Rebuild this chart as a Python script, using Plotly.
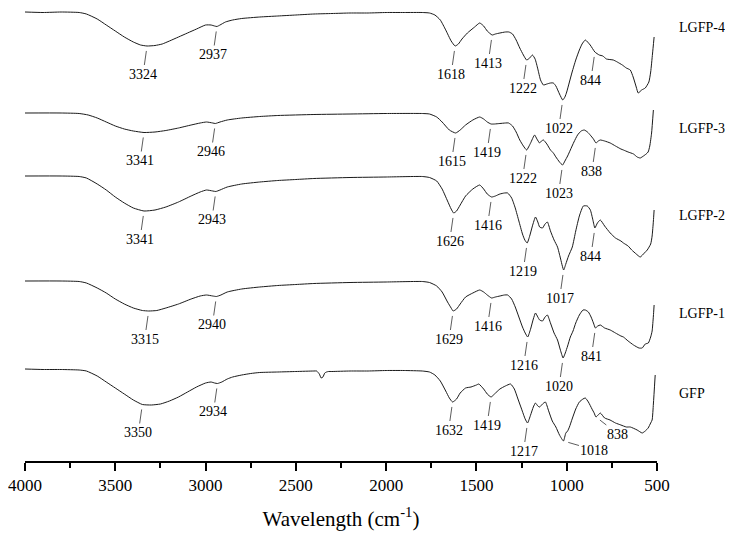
import numpy as np
import plotly.graph_objects as go

# ---------------------------------------------------------------------------
# FTIR spectra: wavenumber (cm-1) and depth below each
# spectrum's own flat baseline (arbitrary transmittance units, larger = deeper)
# ---------------------------------------------------------------------------
names = ["LGFP-4", "LGFP-3", "LGFP-2", "LGFP-1", "GFP"]
baselines = [449, 348, 285, 180, 92]          # vertical offset of each spectrum
name_label_y = [434, 333, 246, 148, 68]

lgfp4_wn = [4000, 3900, 3800, 3700, 3660, 3600, 3550, 3500, 3450, 3400, 3360, 3324, 3280, 3240, 3200,
            3150, 3100, 3050, 3000, 2970, 2950, 2937, 2920, 2890, 2850, 2800, 2700, 2600, 2500, 2400,
            2300, 2200, 2100, 2000, 1900, 1800, 1760, 1730, 1700, 1670, 1640, 1618, 1600, 1580, 1550,
            1510, 1482, 1460, 1440, 1413, 1395, 1370, 1340, 1320, 1300, 1280, 1260, 1240, 1222, 1205,
            1190, 1175, 1160, 1145, 1129, 1110, 1090, 1074, 1060, 1040, 1022, 1010, 1000, 985, 970,
            950, 930, 915, 897, 870, 844, 820, 800, 780, 742, 720, 692, 670, 648, 632, 615, 604,
            585, 565, 545, 535, 525, 516]
lgfp4_d = [0, 0.5, 0, 0.5, 2, 7, 13, 19, 25, 30, 33, 34, 33.5, 32, 29,
           25, 21, 17, 13, 13, 14, 14.5, 13, 10, 8, 6.5, 5, 4, 3, 2,
           1.5, 1, 1, 0.5, 0.5, 0.5, 1, 3, 8, 18, 29, 34, 32, 27, 21,
           15, 11, 14, 19, 23, 22, 21, 20, 20, 22, 28, 36, 43, 48, 46,
           43, 47, 57, 68, 73, 72, 71, 71, 74, 82, 88, 85, 80, 70, 60,
           48, 38, 32, 28, 33, 40, 43, 44, 47, 48, 50, 53, 56, 58, 65, 75, 81,
           78, 76, 70, 60, 42, 25]

lgfp3_wn = [4000, 3800, 3700, 3650, 3600, 3550, 3500, 3450, 3400, 3341, 3280, 3220, 3150, 3080, 3030,
            2995, 2960, 2946, 2920, 2880, 2800, 2700, 2600, 2400, 2200, 2000, 1800, 1760, 1720, 1690,
            1650, 1615, 1590, 1560, 1520, 1482, 1460, 1440, 1419, 1400, 1370, 1340, 1322, 1300, 1280,
            1260, 1240, 1222, 1200, 1178, 1165, 1150, 1140, 1129, 1110, 1090, 1074, 1060, 1040, 1023,
            1010, 995, 980, 960, 940, 920, 903, 885, 870, 852, 838, 825, 814, 790, 759, 730, 700,
            686, 660, 630, 610, 593, 575, 560, 549, 540, 530, 520]
lgfp3_d = [0, 0, 0.5, 2, 5, 9, 13, 16, 18, 19.5, 19, 17.5, 15, 12, 10,
           9, 10, 10.5, 9, 7, 5, 3.5, 2.5, 1.5, 1, 0.5, 0.5, 1, 4, 9,
           17, 20, 17, 12, 7, 4, 6, 9, 11, 11, 10.5, 10, 10, 13, 19,
           27, 33, 37, 30, 22, 26, 30, 28, 27, 31, 37, 40, 44, 49, 52,
           48, 43, 37, 29, 22, 18, 17, 19, 22, 26, 30, 28, 27, 28, 30, 33, 36,
           37, 39, 41, 44, 45, 43, 41, 39, 33, 20, -3]

lgfp2_wn = [4000, 3800, 3700, 3660, 3600, 3550, 3500, 3450, 3400, 3341, 3280, 3220, 3150, 3080, 3030,
            2995, 2960, 2943, 2920, 2880, 2800, 2700, 2600, 2500, 2400, 2200, 2000, 1800, 1760, 1720,
            1690, 1660, 1640, 1626, 1610, 1590, 1560, 1520, 1482, 1460, 1440, 1416, 1395, 1370, 1345,
            1327, 1305, 1285, 1265, 1245, 1232, 1219, 1205, 1190, 1173, 1160, 1150, 1134, 1120, 1107,
            1090, 1070, 1051, 1035, 1017, 1005, 990, 969, 950, 930, 908, 886, 869, 855, 844, 830,
            814, 790, 759, 730, 700, 686, 660, 640, 615, 593, 570, 554, 535, 527, 520, 516]
lgfp2_d = [0, 0, 0.5, 2, 8, 14, 21, 27, 32, 35, 34, 31, 26, 20, 16,
           14, 15, 15.5, 14, 11, 8, 6, 4.5, 3.5, 2.5, 1.5, 1, 0.5, 1.5, 5,
           13, 25, 33, 37, 35, 29, 20, 13, 9, 13, 18, 21, 20, 18, 17,
           17, 22, 32, 45, 58, 64, 67, 60, 50, 41, 46, 51, 52, 48, 46,
           55, 64, 71, 82, 94, 88, 80, 71, 55, 40, 30, 30, 34, 44, 52, 47,
           44, 50, 57, 62, 65, 67, 70, 74, 78, 81, 77, 74, 68, 60, 45, 34]

lgfp1_wn = [4000, 3800, 3700, 3660, 3600, 3550, 3500, 3450, 3400, 3350, 3315, 3270, 3220, 3150, 3080,
            3030, 2995, 2960, 2940, 2915, 2880, 2800, 2700, 2600, 2500, 2400, 2200, 2000, 1800, 1760,
            1720, 1690, 1660, 1640, 1629, 1610, 1590, 1560, 1520, 1482, 1460, 1440, 1416, 1395, 1370,
            1345, 1327, 1305, 1285, 1265, 1245, 1230, 1216, 1200, 1185, 1173, 1160, 1150, 1134, 1120,
            1107, 1090, 1070, 1051, 1035, 1020, 1008, 995, 980, 965, 950, 930, 910, 897, 880, 865,
            852, 841, 828, 814, 790, 759, 730, 700, 686, 660, 630, 600, 582, 565, 548, 535, 527,
            520, 516]
lgfp1_d = [0, 0, 0.5, 2, 7, 12, 18, 23, 27, 29.5, 30, 29.5, 27, 23, 18,
           15, 14, 15, 15.5, 14, 11, 8, 6, 4.5, 3.5, 2.5, 1.5, 1, 0.5, 1.5,
           5, 11, 21, 27, 30, 28, 23, 16, 12, 9, 11, 14, 17, 16, 15,
           14, 14, 18, 26, 36, 46, 52, 56, 48, 38, 32, 36, 39, 40, 36,
           34, 42, 52, 59, 69, 77, 72, 65, 56, 50, 42, 34, 29, 29, 31, 36,
           42, 47, 45, 44, 47, 49, 52, 55, 56, 60, 64, 67, 67, 63, 62, 56, 50,
           35, 24]

gfp_wn = [4000, 3900, 3800, 3700, 3660, 3600, 3550, 3500, 3450, 3400, 3350, 3300, 3250, 3200, 3150,
          3100, 3050, 3000, 2970, 2950, 2934, 2910, 2880, 2850, 2800, 2750, 2700, 2600, 2500, 2400,
          2385, 2370, 2360, 2350, 2340, 2330, 2320, 2300, 2200, 2100, 2000, 1900, 1800, 1760, 1730,
          1700, 1670, 1650, 1632, 1610, 1590, 1560, 1530, 1500, 1487, 1460, 1440, 1419, 1400, 1370,
          1340, 1311, 1290, 1270, 1250, 1230, 1217, 1200, 1185, 1173, 1160, 1150, 1134, 1118, 1100,
          1080, 1060, 1040, 1018, 1005, 995, 985, 970, 950, 930, 910, 897, 880, 860, 848, 838,
          826, 814, 790, 760, 730, 700, 670, 648, 610, 582, 565, 549, 535, 527, 520, 510]
gfp_d = [0, 0.5, 0.5, 1, 2, 7, 13, 19, 25, 31, 35.5, 36, 35, 32, 28,
         23, 18, 14, 13, 14, 14.5, 13, 10, 8, 6, 4.5, 3.5, 3, 2.5, 2,
         2, 5, 9, 8, 4, 3, 2.5, 2.5, 2, 2, 1.5, 1.5, 2, 3, 6,
         12, 22, 29, 33, 30, 24, 19, 18, 16, 15, 20, 25, 28, 25, 20,
         17, 15, 20, 30, 40, 50, 54, 46, 38, 34, 37, 38, 35, 33, 42,
         52, 58, 66, 72, 64, 62, 58, 50, 40, 33, 30, 29, 33, 40, 44, 48,
         46, 44, 49, 51, 54, 56, 58, 58, 61, 64, 62, 59, 54, 51, 35, 6]

spectra_wn = [lgfp4_wn, lgfp3_wn, lgfp2_wn, lgfp1_wn, gfp_wn]
spectra_d = [lgfp4_d, lgfp3_d, lgfp2_d, lgfp1_d, gfp_d]

# labelled bands for each spectrum
peaks = [
    [3324, 2937, 1618, 1413, 1222, 1022, 844],
    [3341, 2946, 1615, 1419, 1222, 1023, 838],
    [3341, 2943, 1626, 1416, 1219, 1017, 844],
    [3315, 2940, 1629, 1416, 1216, 1020, 841],
    [3350, 2934, 1632, 1419, 1217, 1018, 838],
]
# labels pulled out sideways instead of straight down (series, band): (ax, ay)
side_labels = {(4, 1018): (31, 9), (4, 838): (22, 17)}

FONT = "Liberation Serif"

fig = go.Figure()
for i, name in enumerate(names):
    wn = np.array(spectra_wn[i], dtype=float)
    y = baselines[i] - np.array(spectra_d[i], dtype=float)
    fig.add_trace(go.Scatter(x=wn, y=y, mode="lines", name=name,
                             line=dict(color="#1a1a1a", width=1, shape="spline", smoothing=0.5),
                             hoverinfo="skip", showlegend=False))

    # band labels with short leader lines
    for p in peaks[i]:
        yp = np.interp(p, wn[::-1], y[::-1])
        ax, ay = side_labels.get((i, p), (-4, 28))
        fig.add_annotation(x=p, y=yp, text=str(p), showarrow=True, arrowhead=0,
                           arrowwidth=0.8, arrowcolor="#333", standoff=5,
                           ax=ax, ay=ay, font=dict(family=FONT, size=14, color="black"))

    # series name at the right
    fig.add_annotation(x=1.032, xref="paper", y=name_label_y[i], yref="y", text=name,
                       showarrow=False, xanchor="left",
                       font=dict(family=FONT, size=14, color="black"))

fig.update_xaxes(range=[4000, 500], autorange=False, dtick=500, tick0=500,
                 showline=True, linecolor="black", linewidth=1.5,
                 ticks="outside", ticklen=8, tickwidth=1.5, tickcolor="black",
                 minor=dict(dtick=250, ticks="outside", ticklen=5, tickwidth=1.5, tickcolor="black"),
                 showgrid=False, zeroline=False, ticklabeloverflow="allow",
                 tickfont=dict(family=FONT, size=17, color="black"),
                 title=dict(text="Wavelength (cm<sup>-1</sup>)", standoff=19,
                            font=dict(family=FONT, size=21, color="black")))
fig.update_yaxes(range=[0, 453], visible=False, showgrid=False, zeroline=False)

# the page adds an 8px body margin, so the figure is kept a little smaller than
# the window (no scrollbar) and shifted back by the margins
fig.update_layout(width=725, height=523, margin=dict(l=15, r=76, t=0, b=70),
                  plot_bgcolor="white", paper_bgcolor="white")

fig.write_html("out.html")
